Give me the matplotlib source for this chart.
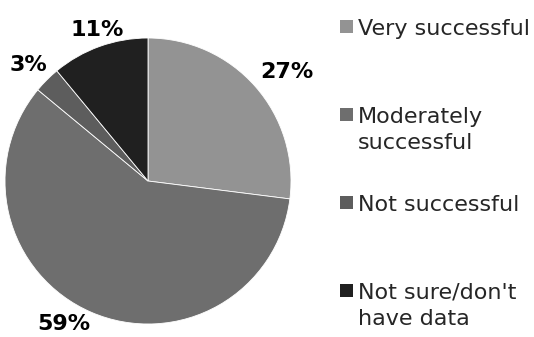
import matplotlib

matplotlib.use("Agg")
import matplotlib.pyplot as plt
import numpy as np
from matplotlib.patches import Rectangle

categories = ["Very successful", "Moderately\nsuccessful", "Not successful", "Not sure/don't\nhave data"]
shares = [27, 59, 3, 11]
colors = ["#939393", "#6e6e6e", "#5d5d5d", "#202020"]

W, H = 534, 337
fig = plt.figure(figsize=(W / 100, H / 100), dpi=100)

# pie: centre ~(148, 181) px, radius ~143 px
cx, cy, r = 148, 181, 143
ax = fig.add_axes([(cx - r) / W, (H - cy - r) / H, 2 * r / W, 2 * r / H])
wedges, _ = ax.pie(
    shares, colors=colors, startangle=90, counterclock=False,
    wedgeprops=dict(edgecolor="white", linewidth=0.6),
)
# Excel-style outside labels: box edge anchored just outside the rim
for w, v in zip(wedges, shares):
    ang = np.deg2rad((w.theta1 + w.theta2) / 2)
    c, s = np.cos(ang), np.sin(ang)
    ha = "left" if c > 0.38 else ("right" if c < -0.38 else "center")
    va = "bottom" if s > 0 else "top"
    d = 1.05 if s > 0 else 1.01
    dx = 0.04 if (ha == "right" and s > 0) else 0.0
    ax.text(d * c + dx, d * s, f"{v}%", ha=ha, va=va,
            fontsize=16, fontweight="bold", color="black")
ax.set_xlim(-1, 1)
ax.set_ylim(-1, 1)
ax.set_aspect("equal")
ax.axis("off")

# legend drawn by hand so the square lines up with the first text line
step = 26  # px between wrapped lines
for i, (lab, col) in enumerate(zip(categories, colors)):
    base = 35 + 88 * i
    nl = lab.count("\n")
    fig.patches.append(Rectangle((340 / W, 1 - (base - 2) / H), 13 / W, 13 / H,
                                 transform=fig.transFigure, facecolor=col, edgecolor="none"))
    # va="baseline" sits on the last line, so push multi-line labels down
    fig.text(358 / W, 1 - (base + nl * step) / H, lab, ha="left", va="baseline",
             fontsize=16, color="#262626", linespacing=1.4)

fig.savefig("out.png", dpi=100)
